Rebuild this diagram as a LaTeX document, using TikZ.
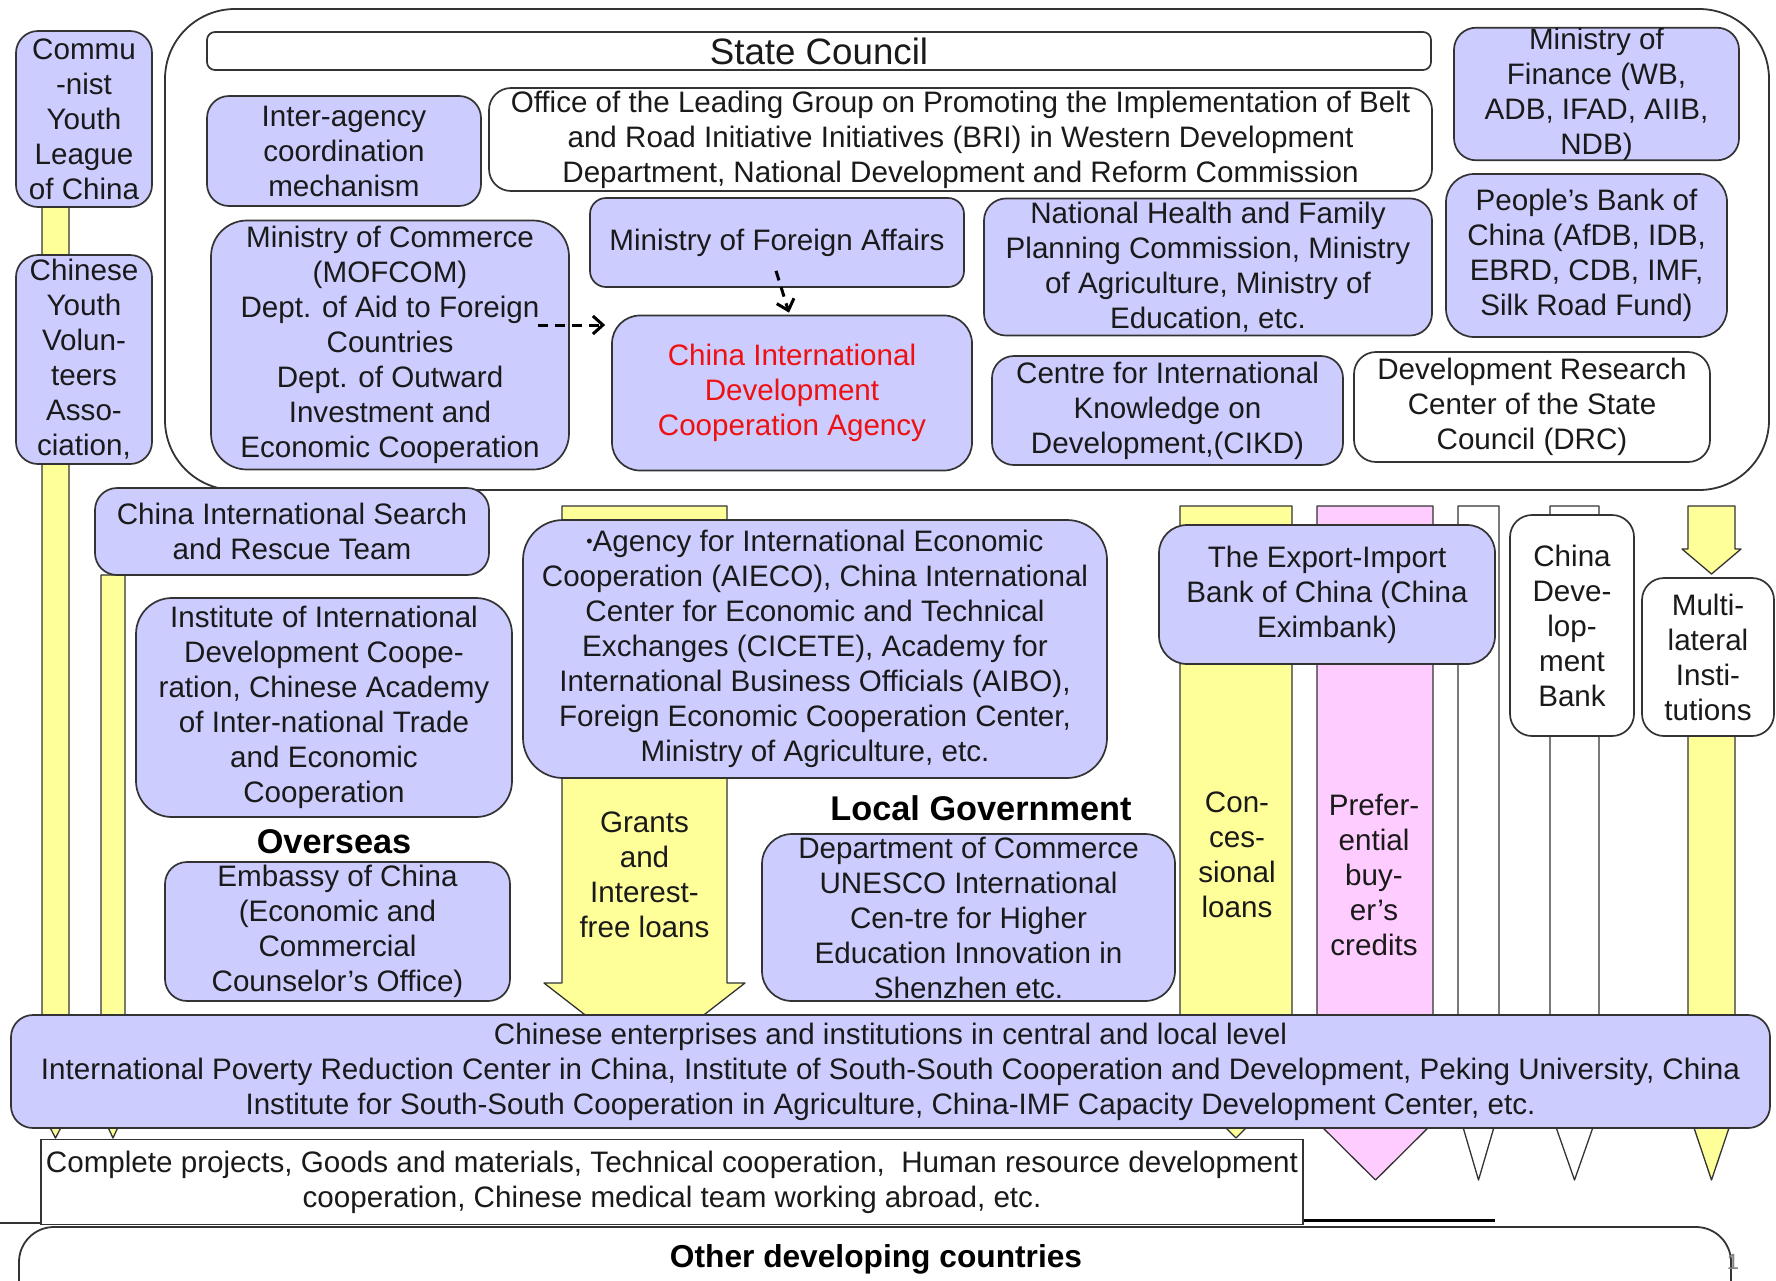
\documentclass[tikz,border=0pt]{standalone}
\usepackage{fontspec}
\setmainfont{Liberation Sans}
\usetikzlibrary{arrows.meta,calc}
\definecolor{lavc}{HTML}{CCCCFF}
\definecolor{yelc}{HTML}{FFFF99}
\definecolor{pinkc}{HTML}{FFCCFF}
\definecolor{bordc}{HTML}{333333}
\definecolor{txtc}{HTML}{1A1A1A}
\definecolor{redc}{HTML}{EE1111}
\newcommand{\nf}{\fontsize{29.6}{35}\selectfont}
\newcommand{\bigf}{\fontsize{36.7}{40}\selectfont}
\newcommand{\labf}{\fontsize{34.3}{38}\selectfont\bfseries}
\newcommand{\othf}{\fontsize{31.7}{36}\selectfont\bfseries}
\begin{document}
\begin{tikzpicture}[x=1pt,y=-1pt,
  lav/.style={draw=bordc, fill=lavc, line width=1.7pt, rounded corners=22pt, align=center, inner sep=0pt, font=\nf, text=txtc},
  wht/.style={lav, fill=white},
  plain/.style={align=center, inner sep=0pt, font=\nf, text=txtc},
  lab/.style={align=center, inner sep=0pt, font=\labf, text=black},
  bar/.style={draw=bordc, line width=1.3pt, line join=round},
  dar/.style={draw=black, line width=3pt, dash pattern=on 10pt off 7pt, -{Straight Barb[length=10pt,width=18pt,line width=3pt]}}]
\useasboundingbox (0,0) rectangle (1776,1280);
\fill[white] (0,0) rectangle (1776,1280);
% big frame
\draw[draw=bordc, line width=1.8pt, rounded corners=70pt] (165,9) rectangle (1769,490);
% left bars
\draw[bar, fill=yelc] (42,207) -- (69,207) -- (69,1112) -- (55.5,1138) -- (42,1112) -- cycle;
\draw[bar, fill=yelc] (101,575) -- (125,575) -- (125,1112) -- (113,1138) -- (101,1112) -- cycle;
% grants arrow
\draw[bar, fill=yelc] (562,506) -- (727,506) -- (727,983) -- (745,983) -- (644.5,1061) -- (544,983) -- (562,983) -- cycle;
% concessional
\draw[bar, fill=yelc] (1180,506) -- (1292,506) -- (1292,1082) -- (1236,1138) -- (1180,1082) -- cycle;
% preferential
\draw[bar, fill=pinkc] (1317,506) -- (1433,506) -- (1433,1110) -- (1446,1110) -- (1375.5,1180) -- (1305,1110) -- (1317,1110) -- cycle;
% white bar
\draw[bar, fill=white] (1458,506) -- (1499,506) -- (1499,1110) -- (1478.5,1180) -- (1458,1110) -- cycle;
% CDB bar
\draw[bar, fill=white] (1550,506) -- (1599,506) -- (1599,1110) -- (1574.5,1180) -- (1550,1110) -- cycle;
% multilateral
\draw[bar, fill=yelc] (1688,506) -- (1735,506) -- (1735,549) -- (1741,549) -- (1711.5,574) -- (1682,549) -- (1688,549) -- cycle;
\draw[bar, fill=yelc] (1688,736) -- (1735,736) -- (1735,1110) -- (1711.5,1180) -- (1688,1110) -- cycle;

% top boxes
\node[lav, minimum width=136pt, minimum height=176pt] (cyl) at (84,119) {Commu\\-nist\\Youth\\League\\of China};
\node[lav, minimum width=136pt, minimum height=209pt] (cyva) at (84,359.5) {Chinese\\Youth\\Volun-\\teers\\Asso-\\ciation,};
\node[wht, rounded corners=8pt, minimum width=1224pt, minimum height=38pt, font=\bigf] (sc) at (819,51) {State Council};
\node[lav, minimum width=274pt, minimum height=110pt] (inter) at (344,151) {Inter-agency\\coordination\\mechanism};
\node[wht, minimum width=943pt, minimum height=103pt] (office) at (960.5,139.5) {Office of the Leading Group on Promoting the Implementation of Belt\\and Road Initiative Initiatives (BRI) in Western Development\\Department, National Development and Reform Commission};
\node[lav, minimum width=285pt, minimum height=124pt] (mof) at (1596.5,94) {Ministry of\\Finance (WB,\\ADB, IFAD, AIIB,\\NDB)};
\node[lav, rounded corners=36pt, minimum width=358pt, minimum height=249pt] (mofcom) at (390,345) {Ministry of Commerce\\(MOFCOM)\\Dept. of Aid to Foreign\\Countries\\Dept. of Outward\\Investment and\\Economic Cooperation};
\node[lav, rounded corners=16pt, minimum width=374pt, minimum height=89pt] (mofa) at (777,242.5) {Ministry of Foreign Affairs};
\node[lav, rounded corners=28pt, minimum width=360pt, minimum height=155pt, text=redc] (cidca) at (792,393) {China International\\Development\\Cooperation Agency};
\node[lav, minimum width=448pt, minimum height=137pt] (nhfpc) at (1208,267) {National Health and Family\\Planning Commission, Ministry\\of Agriculture, Ministry of\\Education, etc.};
\node[lav, rounded corners=28pt, minimum width=281pt, minimum height=163pt] (pboc) at (1586.5,255.5) {People's Bank of\\China (AfDB, IDB,\\EBRD, CDB, IMF,\\Silk Road Fund)};
\node[lav, minimum width=351pt, minimum height=109pt] (cikd) at (1167.5,410.5) {Centre for International\\Knowledge on\\Development,(CIKD)};
\node[wht, minimum width=356pt, minimum height=110pt] (drc) at (1532,407) {Development Research\\Center of the State\\Council (DRC)};
% dashed arrows
\draw[dar] ($(mofcom.east)+(-32,-20)$) -- ($(cidca.west)+(-6,-68)$);
\draw[dar] ($(mofa.south)+(-1,-17)$) -- ($(cidca.north)+(-3,-2)$);

% lower boxes
\node[lav, minimum width=394pt, minimum height=87pt] (sar) at (292,531.5) {China International Search\\and Rescue Team};
\node[lav, rounded corners=36pt, minimum width=376pt, minimum height=219pt] (iidc) at (324,707.5) {Institute of International\\Development Coope-\\ration, Chinese Academy\\of Inter-national Trade\\and Economic\\Cooperation};
\node[lab] (overseas) at (334,842) {Overseas};
\node[lav, minimum width=345pt, minimum height=139pt] (emb) at (337.5,931.5) {Embassy of China\\(Economic and\\Commercial\\Counselor's Office)};
\node[lav, rounded corners=40pt, minimum width=584pt, minimum height=258pt] (aieco) at (815,649) {{\fontsize{18}{18}\selectfont\raisebox{4pt}{•}}Agency for International Economic\\Cooperation (AIECO), China International\\Center for Economic and Technical\\Exchanges (CICETE), Academy for\\International Business Officials (AIBO),\\Foreign Economic Cooperation Center,\\Ministry of Agriculture, etc.};
\node[plain] (grants) at (644.5,875) {Grants\\and\\Interest-\\free loans};
\node[lab] (localgov) at (981,808) {Local Government};
\node[lav, rounded corners=30pt, minimum width=413pt, minimum height=167pt] (doc) at (968.5,917.5) {Department of Commerce\\UNESCO International\\Cen-tre for Higher\\Education Innovation in\\Shenzhen etc.};
\node[plain] (conc) at (1237,855) {Con-\\ces-\\sional\\loans};
\node[plain] (pref) at (1374,875) {Prefer-\\ential\\buy-\\er's\\credits};
\node[lav, rounded corners=28pt, minimum width=336pt, minimum height=139pt] (exim) at (1327,594.5) {The Export-Import\\Bank of China (China\\Eximbank)};
\node[wht, minimum width=124pt, minimum height=221pt] (cdb) at (1572,625.5) {China\\Deve-\\lop-\\ment\\Bank};
\node[wht, minimum width=132pt, minimum height=158pt] (multi) at (1708,657) {Multi-\\lateral\\Insti-\\tutions};

% bottom
\node[lav, minimum width=1759pt, minimum height=113pt] (ent) at (890.5,1071.5) {Chinese enterprises and institutions in central and local level\\International Poverty Reduction Center in China, Institute of South-South Cooperation and Development, Peking University, China\\Institute for South-South Cooperation in Agriculture, China-IMF Capacity Development Center, etc.};
\draw[draw=bordc, line width=1.6pt] (0,1223) -- (41,1223);
\draw[draw=black, line width=3pt] (1303,1220) -- (1495,1220);
\node[wht, rounded corners=0pt, minimum width=1262pt, minimum height=85pt] (complete) at (672,1182) {Complete projects, Goods and materials, Technical cooperation,\ \ Human resource development\\cooperation, Chinese medical team working abroad, etc.};
\draw[draw=bordc, line width=1.8pt, fill=white, rounded corners=35pt] (19,1310) -- (19,1227) -- (1731,1227) -- (1731,1310);
\node[lab, font=\othf] (other) at (876,1259) {Other developing countries};
\node[plain, text=gray, font=\fontsize{22}{22}\selectfont] (pgnum) at (1733,1262) {1};
\end{tikzpicture}
\end{document}
